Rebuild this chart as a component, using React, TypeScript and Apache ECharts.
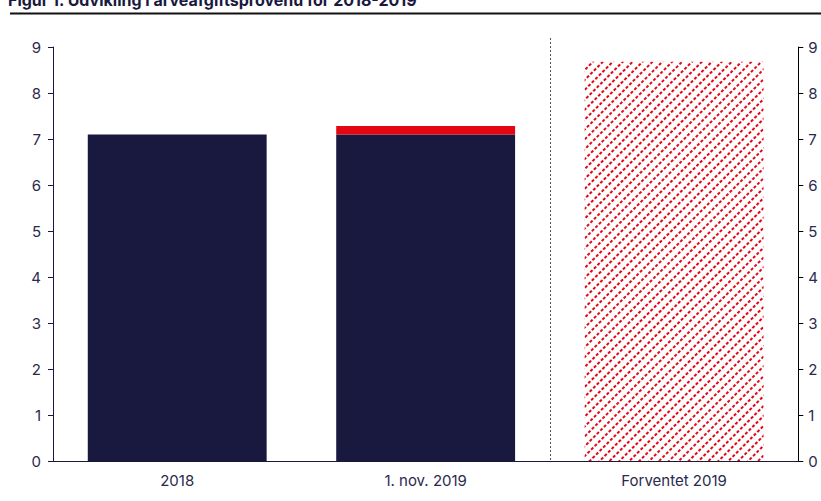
import React, { useEffect, useRef } from "react";
import * as echarts from "echarts";

const categories = ["2018", "1. nov. 2019", "Forventet 2019"];
const baseValues = [7.1, 7.1, null];
const increaseValues = [null, 0.18, null];
const forecastValues = [null, null, 8.68];
const yTicks = { min: 0, max: 9, interval: 1 };
const titleText = "Figur 1. Udvikling i arveafgiftsprovenu for 2018-2019";

const NAVY = "#19193f";
const RED = "#e30613";
const FONT = "Inter, 'Noto Sans', sans-serif";

export default function App() {
  const ref = useRef<HTMLDivElement>(null);
  useEffect(() => {
    if (!ref.current) return;
    const chart = echarts.init(ref.current, undefined, { renderer: "svg" });
    const axisLabel = { color: "#2a2a4c", fontSize: 15, fontFamily: FONT };
    chart.setOption({
      animation: false,
      grid: { left: 53, right: 16, top: 47, bottom: 40 },
      xAxis: {
        type: "category",
        data: categories,
        axisLine: { lineStyle: { color: NAVY, width: 1 } },
        axisTick: { show: false },
        axisLabel: { ...axisLabel, margin: 12 },
      },
      yAxis: [
        {
          type: "value",
          position: "left",
          ...yTicks,
          axisLine: { show: true, lineStyle: { color: NAVY } },
          axisTick: { show: true, length: 5, lineStyle: { color: NAVY } },
          axisLabel: { ...axisLabel, margin: 12 },
          splitLine: { show: false },
        },
        {
          type: "value",
          position: "right",
          ...yTicks,
          axisLine: { show: true, lineStyle: { color: "#000" } },
          axisTick: { show: true, length: 5, lineStyle: { color: "#000" } },
          axisLabel: { ...axisLabel, margin: 10 },
          splitLine: { show: false },
        },
      ],
      series: [
        {
          type: "bar",
          stack: "a",
          data: baseValues,
          barWidth: "72%",
          itemStyle: { color: NAVY },
        },
        {
          type: "bar",
          stack: "a",
          data: increaseValues,
          barWidth: "72%",
          itemStyle: { color: RED },
        },
        {
          type: "bar",
          stack: "a",
          data: forecastValues,
          barWidth: "72%",
          itemStyle: {
            color: "#ffffff",
            decal: {
              symbol: "rect",
              symbolSize: 1,
              color: RED,
              dashArrayX: [3, 2],
              dashArrayY: [2, 5],
              rotation: -Math.PI / 4,
            },
          },
        },
      ],
    });
    const x1 = chart.convertToPixel({ xAxisIndex: 0 }, 1) as number;
    const x2 = chart.convertToPixel({ xAxisIndex: 0 }, 2) as number;
    const yBottom = chart.convertToPixel({ yAxisIndex: 0 }, 0) as number;
    const xd = Math.round((x1 + x2) / 2) + 0.5;
    chart.setOption({
      graphic: [
        {
          type: "text",
          left: 8,
          top: -8,
          style: { text: titleText, font: `bold 16px ${FONT}`, fill: NAVY },
        },
        {
          type: "line",
          shape: { x1: 10, y1: 13.5, x2: 821, y2: 13.5 },
          style: { stroke: "#111", lineWidth: 2 },
        },
        {
          type: "line",
          shape: { x1: xd, y1: 38, x2: xd, y2: yBottom },
          style: { stroke: "#555", lineWidth: 1, lineDash: [2, 2] },
        },
      ],
    });
    return () => chart.dispose();
  }, []);
  return (
    <div
      ref={ref}
      style={{ position: "absolute", left: 0, top: 0, width: 821, height: 501 }}
    />
  );
}
